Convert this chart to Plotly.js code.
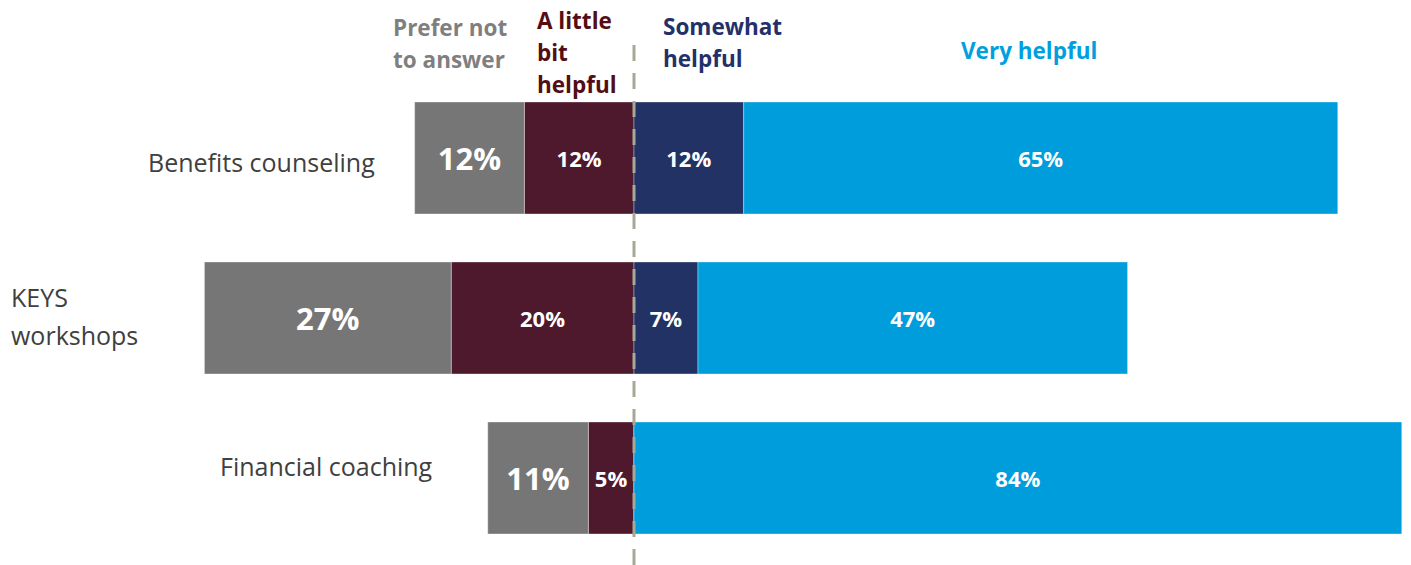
<!DOCTYPE html>
<html><head><meta charset="utf-8">
<script src="https://cdn.plot.ly/plotly-3.0.1.min.js"></script>
<style>html,body{margin:0;padding:0;background:#fff}#chart{width:1411px;height:565px}</style>
</head><body><div id="chart"></div>
<script>
const categories = ["Benefits counseling", "KEYS workshops", "Financial coaching"];
const categoryLines = [["Benefits counseling"], ["KEYS", "workshops"], ["Financial coaching"]];
const preferNot = [12, 27, 11];
const littleBit = [12, 20, 5];
const somewhat = [12, 7, 0];
const veryHelpful = [65, 47, 84];
const seriesLines = [["Prefer not", "to answer"], ["A little", "bit", "helpful"], ["Somewhat", "helpful"], ["Very helpful"]];
const colors = ["#767676", "#4f192d", "#233264", "#009ddc"];
const headerColors = ["#7f7f7f", "#540d13", "#24306a", "#00a0e0"];

const FONT = "'Open Sans', 'Noto Sans', sans-serif";
const W = 1411, H = 565;
const pct = v => v > 0 ? v + "%" : "";

function barTrace(vals, sign, color, size, name) {
  return {
    type: "bar", orientation: "h", name: name,
    y: categories, x: vals.map(v => sign * v),
    text: vals.map(pct), textposition: "inside", insidetextanchor: "middle",
    constraintext: "none", hoverinfo: "skip",
    textfont: {family: FONT, size: size, color: "#ffffff", weight: 700},
    marker: {color: color, line: {color: "rgba(255,255,255,0.35)", width: 1}},
    width: 0.7
  };
}

const data = [
  barTrace(littleBit, -1, colors[1], 22, "A little bit helpful"),
  barTrace(preferNot, -1, colors[0], 31, "Prefer not to answer"),
  barTrace(somewhat, 1, colors[2], 22, "Somewhat helpful"),
  barTrace(veryHelpful, 1, colors[3], 22, "Very helpful")
];

const annotations = [];
function addLines(lines, x, yFirst, step, xanchor, font, bold) {
  lines.forEach((t, j) => {
    annotations.push({
      text: bold ? "<b>" + t + "</b>" : t, xref: "paper", yref: "paper",
      x: x / W, y: 1 - (yFirst + j * step) / H,
      xanchor: xanchor, yanchor: "middle", showarrow: false, font: font
    });
  });
}
// category labels
const catFont = {family: FONT, size: 25, color: "#404040"};
addLines(categoryLines[0], 377, 162, 38, "right", catFont, false);
addLines(categoryLines[1], 9, 297, 38, "left", catFont, false);
addLines(categoryLines[2], 435, 466, 38, "right", catFont, false);
// header legend labels
const headPos = [{x: 391, y: 28}, {x: 535, y: 20}, {x: 661, y: 27}, {x: 959, y: 50}];
seriesLines.forEach((lines, i) => {
  addLines(lines, headPos[i].x, headPos[i].y, 32, "left",
    {family: FONT, size: 22.5, color: headerColors[i]}, true);
});

const pxPerPct = 9.14, zeroPx = 634;
const layout = {
  width: W, height: H,
  margin: {l: 0, r: 0, t: 0, b: 0},
  paper_bgcolor: "#ffffff", plot_bgcolor: "#ffffff",
  barmode: "relative", bargap: 0.3, showlegend: false,
  font: {family: FONT},
  xaxis: {range: [-zeroPx / pxPerPct, (W - zeroPx) / pxPerPct], visible: false, zeroline: false, showgrid: false, fixedrange: true},
  yaxis: {range: [2.544, -0.9875], visible: false, showgrid: false, zeroline: false, fixedrange: true},
  annotations: annotations,
  shapes: [{
    type: "line", xref: "x", yref: "paper", x0: 0, x1: 0, y0: 0, y1: 1 - 42 / H,
    line: {color: "#a8a898", width: 3, dash: "16px,12px"}, layer: "above"
  }]
};

Plotly.newPlot("chart", data, layout, {displayModeBar: false, staticPlot: true});
</script></body></html>
